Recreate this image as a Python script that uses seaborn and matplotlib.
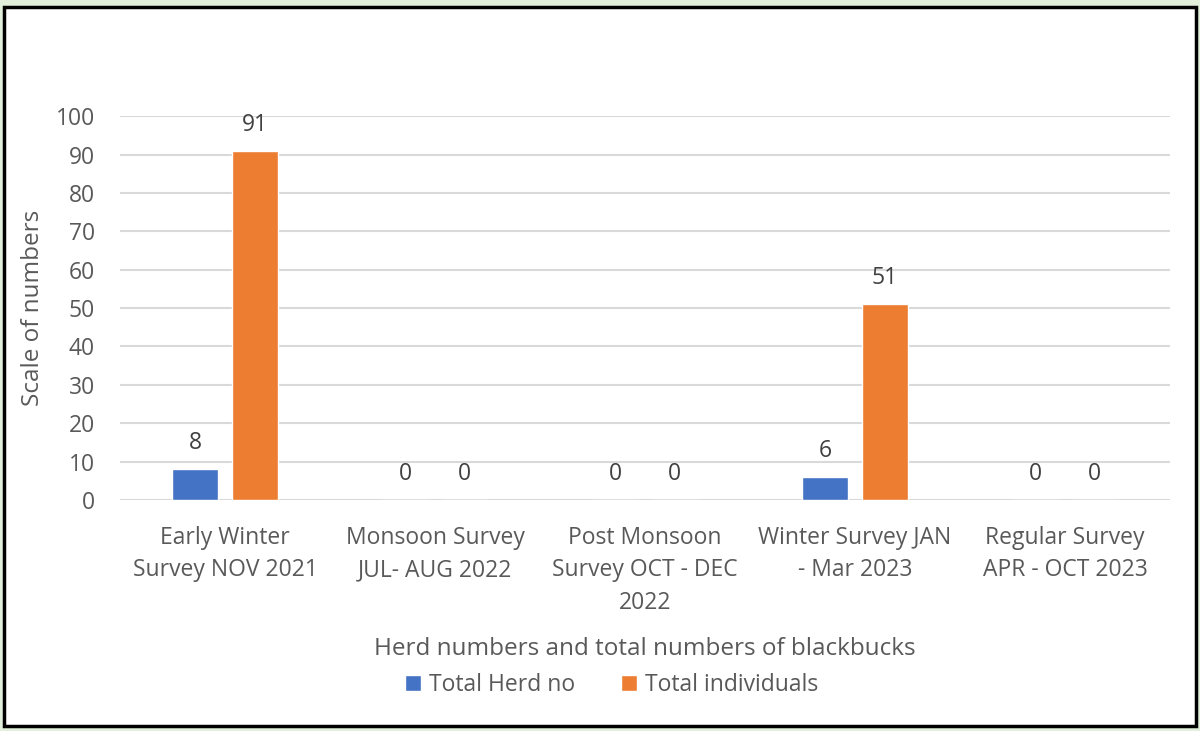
import matplotlib
matplotlib.use("Agg")
import matplotlib.pyplot as plt
from matplotlib.patches import Rectangle
import seaborn as sns
import pandas as pd

# Survey periods and counts
surveys = [
    "Early Winter\nSurvey NOV 2021",
    "Monsoon Survey\nJUL- AUG 2022",
    "Post Monsoon\nSurvey OCT - DEC\n2022",
    "Winter Survey JAN\n- Mar 2023",
    "Regular Survey\nAPR - OCT 2023",
]
herd_counts = [8, 0, 0, 6, 0]
individual_counts = [91, 0, 0, 51, 0]
series_names = ["Total Herd no", "Total individuals"]
series_colors = ["#4472C4", "#ED7D31"]
y_ticks = [0, 10, 20, 30, 40, 50, 60, 70, 80, 90, 100]

df = pd.DataFrame({
    "survey": surveys * 2,
    "series": [series_names[0]] * len(surveys) + [series_names[1]] * len(surveys),
    "value": herd_counts + individual_counts,
})

sns.set_theme(style="white")
plt.rcParams["font.family"] = ["Open Sans", "DejaVu Sans"]
text_grey = "#595959"

fig = plt.figure(figsize=(12, 7.31), dpi=100, facecolor="#E2EFDA")
# white chart panel with a black frame, kept behind the axes
fig.patches.append(Rectangle((0.003, 0.007), 0.994, 0.983, transform=fig.transFigure,
                             facecolor="white", edgecolor="black", linewidth=2.5, zorder=-5))

ax = fig.add_axes([0.1, 0.316, 0.875, 0.525])
ax.set_facecolor("none")

sns.barplot(data=df, x="survey", y="value", hue="series", order=surveys,
            hue_order=series_names, palette=series_colors, width=0.57, gap=0.23,
            saturation=1, ax=ax, zorder=3, legend=True)

for cont in ax.containers:
    ax.bar_label(cont, labels=[f"{v:g}" for v in cont.datavalues], padding=10,
                 fontsize=16.5, color="#404040")

ax.set_ylim(0, 100)
ax.set_yticks(y_ticks)
ax.set_xlim(-0.5, len(surveys) - 0.5)
ax.yaxis.grid(True, color="#D9D9D9", linewidth=1.5, zorder=0)
ax.set_axisbelow(True)
for s in ax.spines.values():
    s.set_visible(False)
ax.tick_params(axis="both", length=0, labelsize=16.5, labelcolor=text_grey)
ax.tick_params(axis="y", pad=18)
ax.tick_params(axis="x", pad=19)
for lbl in ax.get_xticklabels():
    lbl.set_linespacing(1.45)

ax.set_ylabel("Scale of numbers", fontsize=17.5, color=text_grey, labelpad=8)
ax.set_xlabel("Herd numbers and total numbers of blackbucks", fontsize=17.5,
              color=text_grey, labelpad=16)

ax.legend_.remove()
handles = [Rectangle((0, 0), 1, 1, facecolor=c) for c in series_colors]
fig.legend(handles, series_names, loc="center", bbox_to_anchor=(0.51, 0.063),
           ncol=2, frameon=False, fontsize=16.5, labelcolor=text_grey,
           handlelength=0.7, handleheight=0.7, handletextpad=0.35, columnspacing=2.0)

fig.savefig("out.png", dpi=100, facecolor=fig.get_facecolor())
